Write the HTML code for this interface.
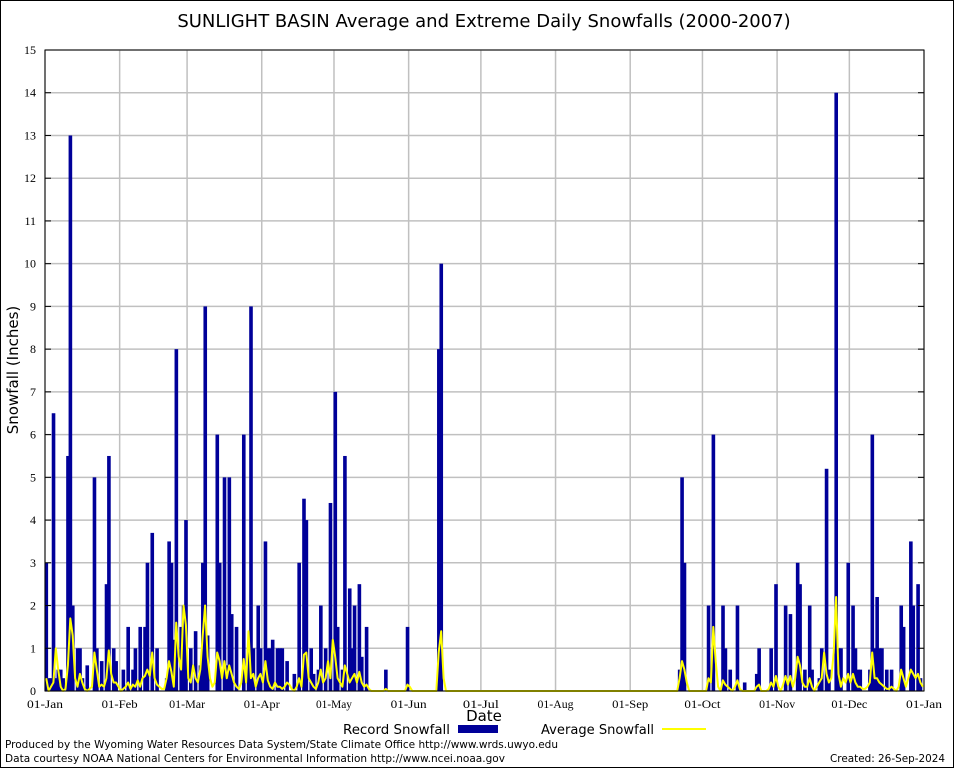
<!DOCTYPE html>
<html><head><meta charset="utf-8"><style>
html,body{margin:0;padding:0;background:#fff;}
svg{display:block;}
.tk{font-family:"Liberation Serif",serif;font-size:12px;fill:#000;}
.sn{font-family:"DejaVu Sans","Liberation Sans",sans-serif;fill:#000;}
</style></head><body>
<svg id="chart" width="954" height="768" viewBox="0 0 954 768" xmlns="http://www.w3.org/2000/svg">
<rect x="0.5" y="0.5" width="953" height="767" fill="#fff" stroke="#000" stroke-width="1"/>
<text x="484" y="27" text-anchor="middle" class="sn" font-size="18">SUNLIGHT BASIN Average and Extreme Daily Snowfalls (2000-2007)</text>
<g id="grid"></g>
<g id="bars"></g>
<g id="avg"></g>
<g id="axes"></g>
<text transform="translate(18,370) rotate(-90)" text-anchor="middle" class="sn" font-size="15">Snowfall (Inches)</text>
<text x="484" y="721" text-anchor="middle" class="sn" font-size="15">Date</text>
<g>
<text x="450" y="734" text-anchor="end" class="sn" font-size="13" textLength="107" lengthAdjust="spacingAndGlyphs">Record Snowfall</text>
<rect x="458" y="725" width="40" height="8" fill="#000099"/>
<text x="654" y="734" text-anchor="end" class="sn" font-size="13" textLength="113" lengthAdjust="spacingAndGlyphs">Average Snowfall</text>
<line x1="662" y1="729" x2="706" y2="729" stroke="#ffff00" stroke-width="2"/>
</g>
<text x="5" y="748" class="sn" font-size="11" textLength="553" lengthAdjust="spacingAndGlyphs">Produced by the Wyoming Water Resources Data System/State Climate Office http://www.wrds.uwyo.edu</text>
<text x="5" y="762" class="sn" font-size="11" textLength="500" lengthAdjust="spacingAndGlyphs">Data courtesy NOAA National Centers for Environmental Information http://www.ncei.noaa.gov</text>
<text x="945" y="762" text-anchor="end" class="sn" font-size="11" textLength="115" lengthAdjust="spacingAndGlyphs">Created: 26-Sep-2024</text>
</svg>
<script>
const monthLabels=["01-Jan","01-Feb","01-Mar","01-Apr","01-May","01-Jun","01-Jul","01-Aug","01-Sep","01-Oct","01-Nov","01-Dec","01-Jan"];
const monthDays=[0,31,59,90,120,151,181,212,243,273,304,334,365];
const yTicks=[0,1,2,3,4,5,6,7,8,9,10,11,12,13,14,15];
const recordDays=[0,1,2,3,4,5,6,7,9,10,11,13,14,15,17,20,21,23,25,26,28,29,32,34,36,37,39,41,42,44,46,50,51,52,53,54,56,57,58,60,62,64,65,66,67,71,72,74,75,76,77,79,82,84,85,86,88,89,91,92,93,94,96,97,98,100,103,105,107,108,110,111,113,114,116,118,120,121,123,124,126,127,128,130,131,133,141,150,163,164,263,264,265,275,277,281,282,284,287,290,295,296,301,303,307,309,312,313,315,317,318,321,322,324,325,328,329,330,333,335,336,337,338,342,343,344,345,346,347,349,351,355,356,359,360,362,363];
const recordVals=[3,0.3,0.3,6.5,0.3,0.5,0.5,0.3,5.5,13,2,1,1,0.3,0.6,5,1,0.7,2.5,5.5,1,0.7,0.5,1.5,0.5,1,1.5,1.5,3,3.7,1,0.3,3.5,3,1.2,8,1.5,2,4,1,1.4,0.6,3,9,1.3,6,3,5,0.6,5,1.8,1.5,6,1,9,1,2,1,3.5,1,1,1.2,1,1,1,0.7,0.4,3,4.5,4,1,0.4,0.5,2,1,4.4,7,1.5,0.5,5.5,2.4,1,2,2.5,0.8,1.5,0.5,1.5,8,10,0.5,5,3,2,6,2,1,0.5,2,0.2,0.4,1,1,2.5,2,1.8,3,2.5,0.5,2,0.5,0.3,1,5.2,0.5,14,1,1,3,2,1,0.5,0.5,0.5,6,1,2.2,1,1,0.5,0.5,2,1.5,3.5,2,2.5,0.3];
const avgDays=[0,2,3,4,5,6,8,9,10,11,12,13,14,15,16,18,19,20,21,22,23,24,25,26,27,28,29,30,32,33,34,35,36,37,38,39,40,41,42,43,44,45,46,47,48,49,50,51,52,53,54,55,56,57,58,59,60,61,62,63,64,65,66,67,68,69,70,71,72,73,74,75,76,77,78,79,80,81,82,83,84,85,86,87,88,89,90,91,92,93,94,95,96,97,98,99,100,101,102,104,105,106,107,108,109,110,111,112,113,114,115,116,117,118,119,120,121,122,123,124,125,126,127,128,129,130,131,132,133,134,141,150,151,163,164,165,263,264,265,266,275,276,277,278,279,281,282,283,284,286,287,288,295,296,300,301,302,303,304,306,307,308,309,310,311,312,313,314,315,316,317,318,320,321,322,323,324,325,326,327,328,329,330,331,332,333,334,335,336,337,338,339,340,341,342,343,344,345,346,347,348,349,350,351,352,354,355,356,357,358,359,360,361,362,363,364];
const avgVals=[0.3,0.1,0.2,1.0,0.5,0.1,0.05,0.6,1.7,1.3,0.3,0.1,0.4,0.2,0.05,0.05,0.1,0.9,0.5,0.1,0.15,0.1,0.3,0.95,0.4,0.2,0.2,0.1,0.05,0.1,0.2,0.05,0.15,0.1,0.25,0.1,0.3,0.35,0.5,0.35,0.9,0.3,0.15,0.1,0.05,0.05,0.3,0.7,0.45,0.1,1.6,0.8,0.5,2.0,1.55,0.3,0.2,0.6,0.3,0.2,0.5,1.3,2.0,0.8,0.3,0.1,0.2,0.9,0.7,0.3,0.7,0.3,0.6,0.4,0.2,0.1,0.05,0.2,0.75,0.2,1.4,0.3,0.4,0.1,0.3,0.4,0.2,0.7,0.25,0.1,0.05,0.2,0.1,0.1,0.05,0.1,0.2,0.15,0.05,0.1,0.3,0.1,0.85,0.9,0.3,0.2,0.1,0.05,0.2,0.5,0.2,0.3,0.7,0.3,1.2,0.8,0.3,0.2,0.1,0.6,0.4,0.2,0.3,0.4,0.2,0.45,0.2,0.1,0.15,0.05,0.05,0.15,0.1,0.9,1.4,0.3,0.3,0.7,0.5,0.2,0.3,0.2,1.5,0.7,0.1,0.25,0.15,0.1,0.05,0.1,0.25,0.05,0.1,0.15,0.05,0.2,0.1,0.35,0.1,0.15,0.35,0.15,0.35,0.1,0.3,0.8,0.6,0.2,0.1,0.1,0.3,0.1,0.1,0.2,0.3,0.9,0.4,0.2,0.3,0.9,2.2,0.4,0.1,0.3,0.2,0.4,0.2,0.4,0.2,0.1,0.1,0.05,0.05,0.1,0.2,0.9,0.3,0.3,0.2,0.15,0.1,0.05,0.05,0.1,0.05,0.1,0.5,0.3,0.1,0.3,0.5,0.4,0.3,0.4,0.2,0.1];

const NS="http://www.w3.org/2000/svg";
const L=45,R=924,T=50,B=691,YMAX=15,NDAYS=365;
function xs(d){return L+d*(R-L)/NDAYS;}
function ys(v){return B-v*(B-T)/YMAX;}
function mk(tag,attrs,parent){const e=document.createElementNS(NS,tag);for(const k in attrs)e.setAttribute(k,attrs[k]);parent.appendChild(e);return e;}
const grid=document.getElementById('grid'),axes=document.getElementById('axes'),bars=document.getElementById('bars'),avg=document.getElementById('avg');
yTicks.forEach(v=>{
  const g=mk('line',{x1:L,x2:R,y1:ys(v),y2:ys(v),stroke:'#c0c0c0','stroke-width':1.5},grid);
  
  
  const t1=mk('line',{x1:L,x2:L+6,y1:ys(v),y2:ys(v),stroke:'#000'},axes);
  
  
  const t2=mk('line',{x1:R-6,x2:R,y1:ys(v),y2:ys(v),stroke:'#000'},axes);
  
  
  const lb=mk('text',{x:L-9,y:ys(v)+4,'text-anchor':'end',class:'tk'},axes);
  lb.textContent=v;
  
  
});
monthDays.forEach((d,i)=>{
  const g=mk('line',{x1:xs(d),x2:xs(d),y1:T,y2:B,stroke:'#c0c0c0','stroke-width':1.5},grid);
  
  
  const lb=mk('text',{x:xs(d),y:708,'text-anchor':'middle',class:'tk',textLength:36,lengthAdjust:'spacingAndGlyphs'},axes);
  lb.textContent=monthLabels[i];
  
  
});
const fr=mk('rect',{x:L,y:T,width:R-L,height:B-T,fill:'none',stroke:'#000','stroke-width':1},axes);


const bw=(R-L)/NDAYS;
recordDays.forEach((d,i)=>{
  const v=recordVals[i];
  const r=mk('rect',{x:xs(d)-0.5,y:ys(v),width:bw+1.2,height:B-ys(v),fill:'#000099'},bars);
  
  
});
const full=new Array(NDAYS).fill(0);
avgDays.forEach((d,i)=>{full[d]=avgVals[i];});
let pts=full.map((v,d)=>xs(d+0.5).toFixed(1)+','+ys(v).toFixed(1)).join(' ');
const pl=mk('polyline',{points:pts,fill:'none',stroke:'#ffff00','stroke-width':2,'stroke-linejoin':'round'},avg);


</script>
</body></html>
